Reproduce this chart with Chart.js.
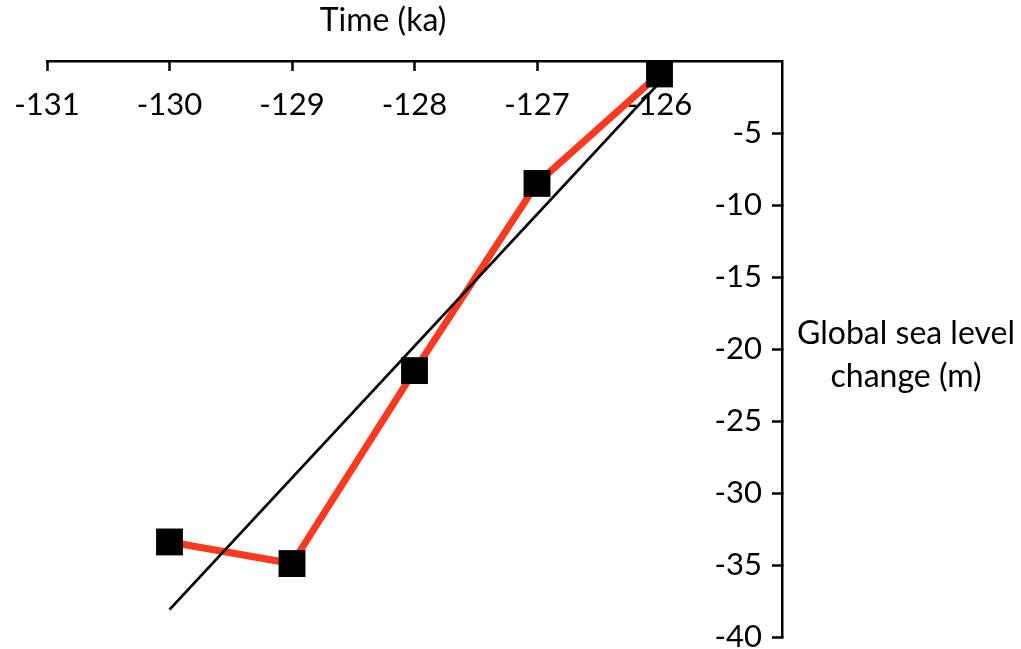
<!DOCTYPE html>
<html>
<head>
<meta charset="utf-8">
<script src="https://cdn.jsdelivr.net/npm/chart.js@4.4.0/dist/chart.umd.min.js"></script>
<style>
  html, body { margin: 0; padding: 0; background: #fff; }
  #wrap { width: 1021px; height: 649px; }
</style>
</head>
<body>
<div id="wrap"><canvas id="seaChart"></canvas></div>
<script>
// time (ka) and sea level change (m)
const aTime = [-130, -129, -128, -127, -126];
const aSeaLevel = [-33.4, -34.9, -21.5, -8.5, -0.9];
// linear fit ends
const aFitTime = [-130, -126];
const aFitLevel = [-38.1, -1.5];
const sFont = "Lato, 'Open Sans', sans-serif";

const aRed = aTime.map((t, i) => ({x: t, y: aSeaLevel[i]}));
const aFit = aFitTime.map((t, i) => ({x: t, y: aFitLevel[i]}));

// axis titles drawn flat, like the original
const titlePlugin = {
    id: "axisTitles",
    afterDraw(chart) {
        const ctx = chart.ctx;
        const area = chart.chartArea;
        ctx.save();
        ctx.fillStyle = "#000";
        ctx.font = "32px " + sFont;
        ctx.textAlign = "center";
        ctx.textBaseline = "middle";
        ctx.fillText("Time (ka)", 383, 21);
        ctx.fillText("Global sea level", area.right + 124, 334);
        ctx.fillText("change (m)", area.right + 124, 377);
        ctx.restore();
    }
};

new Chart(document.getElementById("seaChart").getContext("2d"), {
    type: "scatter",
    data: {
        datasets: [
            {
                label: "markers",
                data: aRed,
                showLine: false,
                pointStyle: "rect",
                pointRadius: 19,
                pointHoverRadius: 19,
                pointBackgroundColor: "#000",
                pointBorderColor: "#000",
                pointBorderWidth: 0,
                order: 0,
                clip: false
            },
            {
                label: "fit",
                data: aFit,
                showLine: true,
                borderColor: "#000",
                borderWidth: 2.8,
                pointRadius: 0,
                order: 1,
                clip: false
            },
            {
                label: "sea level",
                data: aRed,
                showLine: true,
                borderColor: "rgb(255, 56, 32)",
                borderWidth: 7,
                pointRadius: 0,
                order: 2,
                clip: false
            }
        ]
    },
    options: {
        responsive: true,
        maintainAspectRatio: false,
        animation: false,
        layout: {
            autoPadding: false,
            padding: { left: 47, bottom: 12, top: 0, right: 0 }
        },
        plugins: {
            legend: { display: false },
            tooltip: { enabled: false },
            title: { display: false }
        },
        scales: {
            x: {
                type: "linear",
                position: "top",
                min: -131,
                max: -125,
                afterFit: (scale) => {
                    scale.height = 61;
                    scale.paddingLeft = 0;
                    scale.paddingRight = 0;
                },
                border: { display: true, color: "#000", width: 2.5 },
                grid: {
                    drawOnChartArea: false,
                    drawTicks: true,
                    tickLength: -10,
                    tickWidth: 2.5,
                    tickColor: "#000"
                },
                ticks: {
                    stepSize: 1,
                    mirror: true,
                    padding: 25,
                    color: "#000",
                    font: { family: sFont, size: 31 },
                    callback: (v) => v === -125 ? null : String(v)
                }
            },
            y: {
                type: "linear",
                position: "right",
                min: -40,
                max: 0,
                afterFit: (scale) => { scale.width = 239; },
                border: { display: true, color: "#000", width: 2.5 },
                grid: {
                    drawOnChartArea: false,
                    drawTicks: true,
                    tickLength: -10,
                    tickWidth: 2.5,
                    tickColor: "#000"
                },
                ticks: {
                    stepSize: 5,
                    mirror: true,
                    padding: -20,
                    color: "#000",
                    font: { family: sFont, size: 31 },
                    callback: (v) => v === 0 ? null : String(v)
                }
            }
        }
    },
    plugins: [titlePlugin]
});
</script>
</body>
</html>
